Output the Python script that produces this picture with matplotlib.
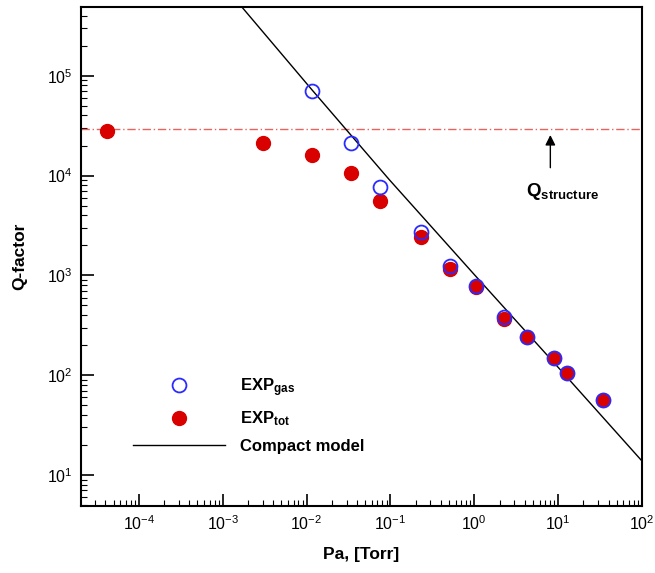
import matplotlib
matplotlib.use("Agg")
import matplotlib.pyplot as plt

plt.rcParams['font.family'] = ['Liberation Sans', 'DejaVu Sans']
plt.rcParams['mathtext.fontset'] = 'custom'
plt.rcParams['mathtext.rm'] = 'Liberation Sans'
plt.rcParams['mathtext.bf'] = 'Liberation Sans:bold'
plt.rcParams['mathtext.it'] = 'Liberation Sans:italic'

# pressure [Torr] and Q-factor
p_tot = [4.2e-5, 3.0e-3, 1.15e-2, 3.35e-2, 7.6e-2, 0.23, 0.52, 1.06, 2.28, 4.3, 8.9, 12.6, 34.4]
q_tot = [2.8e4, 2.1e4, 1.6e4, 1.07e4, 5.6e3, 2.45e3, 1.15e3, 760, 370, 240, 148, 105, 57]

p_gas = [1.15e-2, 3.35e-2, 7.6e-2, 0.23, 0.52, 1.06, 2.28, 4.3, 8.9, 12.6, 34.4]
q_gas = [7.1e4, 2.1e4, 7.6e3, 2.75e3, 1.23e3, 780, 385, 240, 150, 105, 57]

p_model = [1.69e-3, 1.15e-2, 9.7e-2, 1.0, 10, 100]
q_model = [4.9e5, 7.3e4, 9.1e3, 1.02e3, 120, 13.8]

q_structure = 2.9e4

x_ticks = [1e-4, 1e-3, 1e-2, 1e-1, 1e0, 1e1, 1e2]
y_ticks = [1e1, 1e2, 1e3, 1e4, 1e5]


def draw_chart():
    fig = plt.figure(figsize=(6.55, 5.73), dpi=100)
    ax = fig.add_axes([0.1237, 0.117, 0.8565, 0.871])

    ax.axhline(q_structure, color='#e8625f', lw=1.0, ls=(0, (6, 2, 1, 2)))
    ax.plot(p_model, q_model, color='black', lw=1.0, label='Compact model', zorder=2)
    ax.plot(p_tot, q_tot, 'o', ms=10, color='#d90000', mec='#d90000', label=r'$\mathbf{EXP}_{\mathbf{tot}}$', zorder=3)
    ax.plot(p_gas, q_gas, 'o', ms=10, mfc='none', mec='#2b2bff', mew=1.3, label=r'$\mathbf{EXP}_{\mathbf{gas}}$', zorder=4)

    ax.set_xscale('log')
    ax.set_yscale('log')
    ax.set_xticks(x_ticks)
    ax.set_yticks(y_ticks)
    ax.set_xlim(2.05e-5, 100)
    ax.set_ylim(4.9, 4.9e5)

    ax.tick_params(which='both', direction='in', top=False, right=False, labelsize=11.5)
    ax.tick_params(which='major', length=9, width=1.2, pad=6)
    ax.tick_params(which='minor', length=4, width=0.8)
    for s in ax.spines.values():
        s.set_linewidth(1.5)

    ax.set_xlabel('Pa, [Torr]', fontsize=12.5, fontweight='bold', labelpad=10)
    ax.set_ylabel('Q-factor', fontsize=12.5, fontweight='bold', labelpad=14)

    # Q_structure annotation
    ax.annotate('', xy=(8.07, 2.55e4), xytext=(8.07, 1.2e4),
                arrowprops=dict(arrowstyle='-|>', color='black', lw=1.0, mutation_scale=15,
                                shrinkA=0, shrinkB=0))
    ax.text(11.3, 7.0e3, r'$\mathbf{Q}_{\mathbf{structure}}$', fontsize=13.5, ha='center', va='center')

    h, l = ax.get_legend_handles_labels()
    order = [2, 1, 0]
    ax.legend([h[i] for i in order], [l[i] for i in order], loc='upper left',
              bbox_to_anchor=(0.066, 0.29), frameon=False, numpoints=1,
              handlelength=5.5, handletextpad=0.9, labelspacing=0.65,
              prop={'weight': 'bold', 'size': 12})

    fig.savefig('out.png', dpi=100)
    plt.close(fig)
    return True


if __name__ == "__main__":
    draw_chart()
